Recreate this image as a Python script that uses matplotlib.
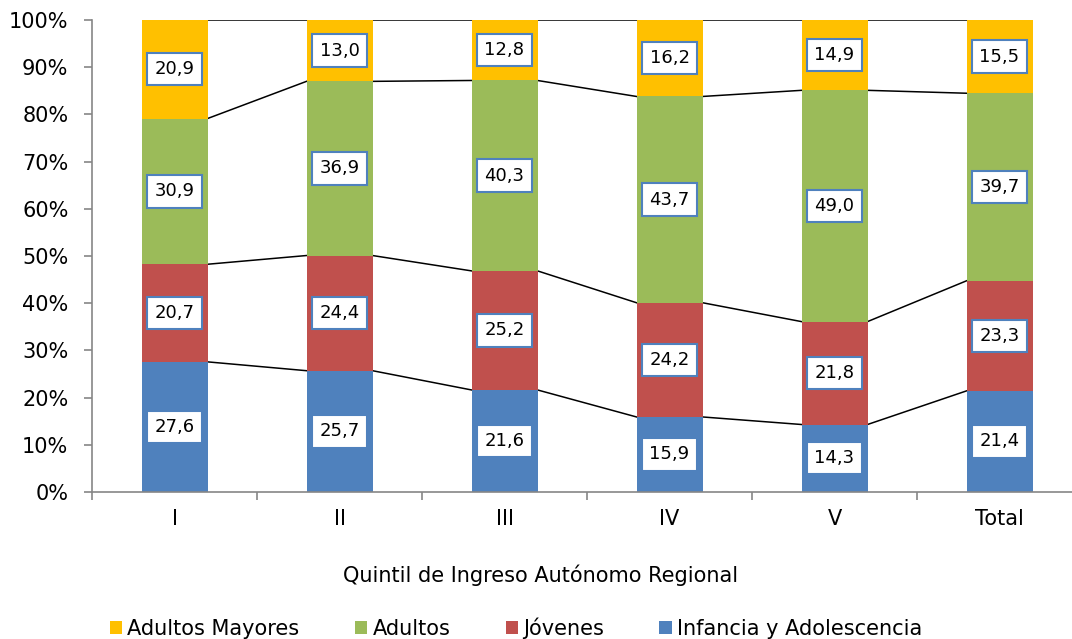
import matplotlib.pyplot as plt
import numpy as np

categories = ['I', 'II', 'III', 'IV', 'V', 'Total']
infancia = [27.6, 25.7, 21.6, 15.9, 14.3, 21.4]
jovenes = [20.7, 24.4, 25.2, 24.2, 21.8, 23.3]
adultos = [30.9, 36.9, 40.3, 43.7, 49.0, 39.7]
mayores = [20.9, 13.0, 12.8, 16.2, 14.9, 15.5]

series = [
    ('Infancia y Adolescencia', infancia, '#4F81BD'),
    ('Jóvenes', jovenes, '#C0504D'),
    ('Adultos', adultos, '#9BBB59'),
    ('Adultos Mayores', mayores, '#FFC000'),
]

plt.rcParams['font.family'] = 'DejaVu Sans'

fig = plt.figure(figsize=(10.72, 6.39), dpi=100)
ax = fig.add_axes([92 / 1072, (639 - 492) / 639, 990 / 1072, 472 / 639])

x = np.arange(len(categories))
total = np.array(infancia) + np.array(jovenes) + np.array(adultos) + np.array(mayores)
width = 0.4
bottom = np.zeros(len(categories))
handles = []
for k, (name, vals, color) in enumerate(series):
    h = np.array(vals) / total * 100
    b = ax.bar(x, h, width, bottom=bottom, color=color, label=name, zorder=2)
    handles.append(b)
    edge = color if k == 0 else '#4F81BD'
    for xi, yb, hi, v in zip(x, bottom, h, vals):
        ax.text(xi, yb + hi / 2, f'{v:.1f}'.replace('.', ','), ha='center', va='center',
                fontsize=13, zorder=4,
                bbox=dict(boxstyle='square,pad=0.4', fc='white', ec=edge, lw=1.5))
    bottom = bottom + h
    # series lines between bars
    for i in range(len(categories) - 1):
        ax.plot([x[i] + width / 2, x[i + 1] - width / 2], [bottom[i], bottom[i + 1]],
                color='black', lw=1.1, zorder=1)

ax.set_xlim(-0.5, len(categories) - 0.5)
ax.set_ylim(0, 100)
ax.set_yticks(np.arange(0, 101, 10))
ax.set_yticklabels([f'{v}%' for v in range(0, 101, 10)], fontsize=15)
ax.set_xticks(x)
ax.set_xticklabels(categories, fontsize=15)
ax.set_xticks(np.arange(-0.5, len(categories), 1), minor=True)
ax.tick_params(axis='x', which='major', length=0, pad=12)
ax.tick_params(axis='x', which='minor', length=6, color='#868686', width=1.2)
ax.tick_params(axis='y', length=6, color='#868686', width=1.2, pad=11)
for s in ['top', 'right']:
    ax.spines[s].set_visible(False)
for s in ['left', 'bottom']:
    ax.spines[s].set_color('#868686')
    ax.spines[s].set_linewidth(1.2)

fig.text(541 / 1072, 1 - 575 / 639, 'Quintil de Ingreso Autónomo Regional',
         ha='center', va='center', fontsize=15)

fig.legend(handles[::-1], [s[0] for s in series][::-1], loc='center',
           bbox_to_anchor=(516 / 1072, 1 - 628 / 639), ncol=4, frameon=False,
           fontsize=15, handlelength=0.6, handleheight=0.6, handletextpad=0.25,
           columnspacing=2.65, borderpad=0, borderaxespad=0)

fig.savefig('out.png', dpi=100)
